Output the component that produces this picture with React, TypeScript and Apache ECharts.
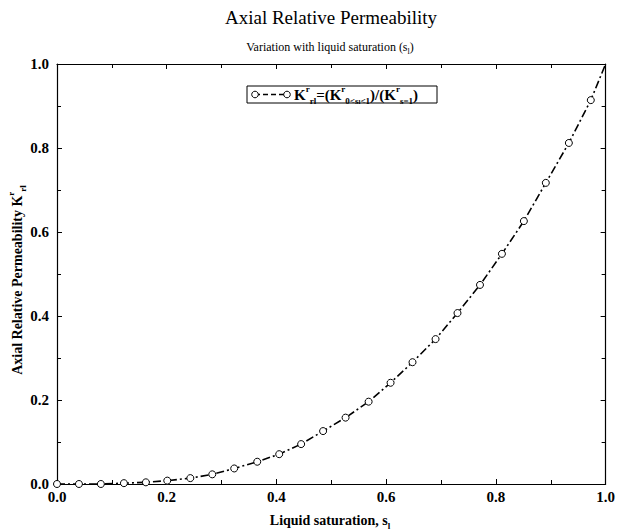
import React, { useEffect, useRef } from "react";
import * as echarts from "echarts";

const saturation = [0, 0.04, 0.08, 0.122, 0.162, 0.201, 0.243, 0.283, 0.323, 0.365, 0.405, 0.445, 0.485, 0.526, 0.568, 0.608, 0.648, 0.69, 0.73, 0.771, 0.811, 0.851, 0.891, 0.933, 0.973, 1.0];
const permeability = [0, 0, 0, 0.002, 0.004, 0.008, 0.014, 0.023, 0.037, 0.053, 0.071, 0.095, 0.126, 0.158, 0.196, 0.241, 0.29, 0.345, 0.407, 0.474, 0.548, 0.626, 0.717, 0.812, 0.914, 1.0];
const tickValues = [0, 0.2, 0.4, 0.6, 0.8, 1.0];

const SERIF = "'Liberation Serif', 'DejaVu Serif', serif";

export default function App() {
  const ref = useRef<HTMLDivElement>(null);
  useEffect(() => {
    if (!ref.current) return;
    const chart = echarts.init(ref.current, null, { renderer: "svg" });
    const data = saturation.map((s, i) => {
      const item: any = { value: [s, permeability[i]] };
      if (i === saturation.length - 1) item.symbol = "none";
      return item;
    });
    const axisCommon = {
      min: 0,
      max: 1,
      interval: 0.2,
      axisLine: { show: true, onZero: false, lineStyle: { color: "#000", width: 1.2 } },
      axisTick: { show: true, inside: true, length: 5, lineStyle: { color: "#000" } },
      minorTick: { show: true, splitNumber: 2, length: 4, lineStyle: { color: "#000" } },
      splitLine: { show: false },
    };
    const labelStyle = {
      color: "#000",
      fontFamily: SERIF,
      fontWeight: "bold" as const,
      fontSize: 15,
      formatter: (v: number) => (tickValues.some((t) => Math.abs(t - v) < 1e-9) ? v.toFixed(1) : ""),
    };
    const sub = { fontSize: 9, verticalAlign: "bottom" as const, fontFamily: SERIF, fontWeight: "bold" as const, lineHeight: 21 };
    const sup = { fontSize: 9, verticalAlign: "top" as const, fontFamily: SERIF, fontWeight: "bold" as const, lineHeight: 21 };
    chart.setOption({
      animation: false,
      backgroundColor: "#fff",
      grid: { left: 57, right: 10, top: 64, bottom: 47 },
      xAxis: [
        { ...axisCommon, type: "value", position: "bottom", axisLabel: { ...labelStyle, margin: 5 } },
        { ...axisCommon, type: "value", position: "top", axisLabel: { show: false } },
      ],
      yAxis: [
        { ...axisCommon, type: "value", position: "left", axisLabel: { ...labelStyle, margin: 8 } },
        { ...axisCommon, type: "value", position: "right", axisLabel: { show: false } },
      ],
      series: [
        {
          type: "line",
          name: "Kr",
          data,
          xAxisIndex: 0,
          yAxisIndex: 0,
          symbol: "circle",
          symbolSize: 7,
          showAllSymbol: true,
          lineStyle: { color: "#000", width: 1.6, type: [8, 3, 2, 3] },
          itemStyle: { color: "#fff", borderColor: "#000", borderWidth: 1 },
        },
      ],
      graphic: [
        {
          type: "text",
          x: 331,
          y: 17,
          style: {
            text: "Axial Relative Permeability",
            fontFamily: SERIF,
            fontSize: 19,
            fill: "#000",
            align: "center",
            verticalAlign: "middle",
          },
        },
        {
          type: "text",
          x: 330,
          y: 47,
          style: {
            text: "Variation with liquid saturation (s{sub|l})",
            fontFamily: SERIF,
            fontSize: 12,
            fill: "#000",
            align: "center",
            verticalAlign: "middle",
            rich: { sub: { fontSize: 8, verticalAlign: "bottom", fontFamily: SERIF, lineHeight: 17 } },
          },
        },
        {
          type: "text",
          x: 330,
          y: 520,
          style: {
            text: "Liquid saturation, s{sub|l}",
            fontFamily: SERIF,
            fontSize: 14,
            fontWeight: "bold",
            fill: "#000",
            align: "center",
            verticalAlign: "middle",
            rich: { sub },
          },
        },
        {
          type: "text",
          x: 17,
          y: 280,
          rotation: Math.PI / 2,
          style: {
            text: "Axial Relative Permeability K{sup|r}{sub|rl}",
            fontFamily: SERIF,
            fontSize: 14,
            fontWeight: "bold",
            fill: "#000",
            align: "center",
            verticalAlign: "middle",
            rich: { sub, sup },
          },
        },
        {
          type: "group",
          children: [
            {
              type: "rect",
              shape: { x: 247, y: 86, width: 190, height: 17 },
              style: { fill: "#fff", stroke: "#000", lineWidth: 1 },
            },
            {
              type: "line",
              shape: { x1: 255, y1: 94.5, x2: 287, y2: 94.5 },
              style: { stroke: "#000", lineWidth: 1.6, lineDash: [5, 3] },
            },
            { type: "circle", shape: { cx: 255, cy: 94.5, r: 3.3 }, style: { fill: "#fff", stroke: "#000", lineWidth: 1 } },
            { type: "circle", shape: { cx: 287, cy: 94.5, r: 3.3 }, style: { fill: "#fff", stroke: "#000", lineWidth: 1 } },
            {
              type: "text",
              x: 294,
              y: 95,
              style: {
                text: "K{sup|r}{sub|rl}=(K{sup|r}{sub|0<s}{sub2|l}{sub|<1})/(K{sup|r}{sub|s=1})",
                fontFamily: SERIF,
                fontSize: 15,
                fontWeight: "bold",
                fill: "#000",
                align: "left",
                verticalAlign: "middle",
                rich: {
                  sub: { fontSize: 9, verticalAlign: "bottom", fontFamily: SERIF, fontWeight: "bold", lineHeight: 21 },
                  sub2: { fontSize: 7, verticalAlign: "bottom", fontFamily: SERIF, fontWeight: "bold", lineHeight: 18 },
                  sup: { fontSize: 9, verticalAlign: "top", fontFamily: SERIF, fontWeight: "bold", lineHeight: 21 },
                },
              },
            },
          ],
        },
      ],
    });
    return () => chart.dispose();
  }, []);
  return (
    <div
      ref={ref}
      style={{ position: "fixed", left: 0, top: 0, width: 618, height: 531, background: "#fff" }}
    />
  );
}
